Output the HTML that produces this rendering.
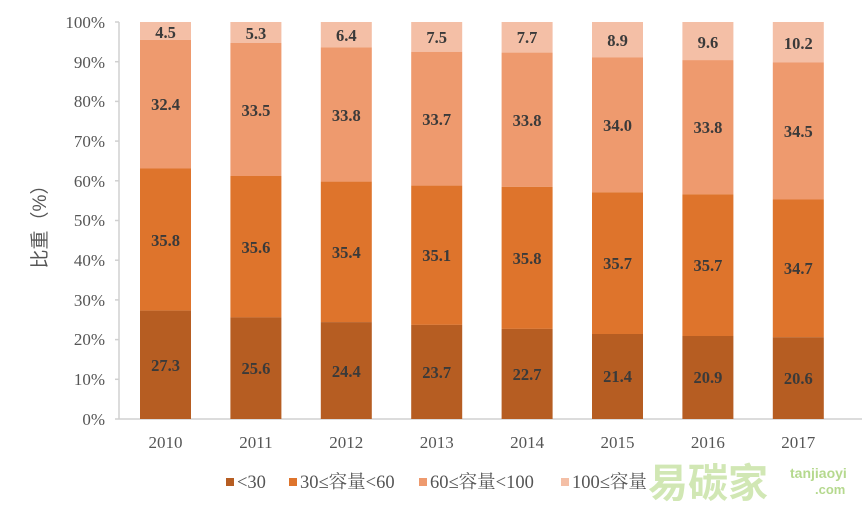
<!DOCTYPE html>
<html><head><meta charset="utf-8"><style>
body{margin:0;background:#fff;}
svg{display:block;}
.v{font-family:"Liberation Serif",serif;font-weight:bold;font-size:16.5px;fill:#3a3a3a;text-anchor:middle;}
.y{font-family:"Liberation Serif",serif;font-size:17px;fill:#555;text-anchor:end;}
.x{font-family:"Liberation Serif",serif;font-size:17px;fill:#555;text-anchor:middle;}
</style></head><body>
<svg width="866" height="510" viewBox="0 0 866 510">
<g stroke="#d0d0d0" stroke-width="1.5">
<line x1="119" y1="22" x2="119" y2="419"/>
<line x1="119" y1="419" x2="862" y2="419"/>
<line x1="115" y1="22" x2="119" y2="22"/><line x1="115" y1="61.7" x2="119" y2="61.7"/><line x1="115" y1="101.4" x2="119" y2="101.4"/><line x1="115" y1="141.1" x2="119" y2="141.1"/><line x1="115" y1="180.8" x2="119" y2="180.8"/><line x1="115" y1="220.5" x2="119" y2="220.5"/><line x1="115" y1="260.2" x2="119" y2="260.2"/><line x1="115" y1="299.9" x2="119" y2="299.9"/><line x1="115" y1="339.6" x2="119" y2="339.6"/><line x1="115" y1="379.3" x2="119" y2="379.3"/><line x1="115" y1="419" x2="119" y2="419"/>
</g>
<g class="y">
<text x="105" y="28">100%</text><text x="105" y="68">90%</text><text x="105" y="107">80%</text><text x="105" y="147">70%</text><text x="105" y="187">60%</text><text x="105" y="226">50%</text><text x="105" y="266">40%</text><text x="105" y="306">30%</text><text x="105" y="345">20%</text><text x="105" y="385">10%</text><text x="105" y="425">0%</text>
</g>
<text transform="translate(46,222) rotate(-90)" text-anchor="middle" style="font-family:'Liberation Sans','Noto Sans CJK SC',sans-serif;font-size:19px;fill:#555">比重（%）</text>

<g>
<rect x="140" y="22" width="51" height="17.9" fill="#F4BFA6"/><rect x="140" y="39.9" width="51" height="128.6" fill="#EE9A6E"/><rect x="140" y="168.5" width="51" height="142.1" fill="#DE742C"/><rect x="140" y="310.6" width="51" height="108.4" fill="#B65D22"/>
<rect x="230.4" y="22" width="51" height="21" fill="#F4BFA6"/><rect x="230.4" y="43" width="51" height="133" fill="#EE9A6E"/><rect x="230.4" y="176" width="51" height="141.4" fill="#DE742C"/><rect x="230.4" y="317.4" width="51" height="101.6" fill="#B65D22"/>
<rect x="320.8" y="22" width="51" height="25.4" fill="#F4BFA6"/><rect x="320.8" y="47.4" width="51" height="134.2" fill="#EE9A6E"/><rect x="320.8" y="181.6" width="51" height="140.5" fill="#DE742C"/><rect x="320.8" y="322.1" width="51" height="96.9" fill="#B65D22"/>
<rect x="411.2" y="22" width="51" height="29.8" fill="#F4BFA6"/><rect x="411.2" y="51.8" width="51" height="133.8" fill="#EE9A6E"/><rect x="411.2" y="185.6" width="51" height="139.3" fill="#DE742C"/><rect x="411.2" y="324.9" width="51" height="94.1" fill="#B65D22"/>
<rect x="501.6" y="22" width="51" height="30.6" fill="#F4BFA6"/><rect x="501.6" y="52.6" width="51" height="134.2" fill="#EE9A6E"/><rect x="501.6" y="186.8" width="51" height="142.1" fill="#DE742C"/><rect x="501.6" y="328.9" width="51" height="90.1" fill="#B65D22"/>
<rect x="592" y="22" width="51" height="35.3" fill="#F4BFA6"/><rect x="592" y="57.3" width="51" height="135" fill="#EE9A6E"/><rect x="592" y="192.3" width="51" height="141.7" fill="#DE742C"/><rect x="592" y="334" width="51" height="85" fill="#B65D22"/>
<rect x="682.4" y="22" width="51" height="38.1" fill="#F4BFA6"/><rect x="682.4" y="60.1" width="51" height="134.2" fill="#EE9A6E"/><rect x="682.4" y="194.3" width="51" height="141.7" fill="#DE742C"/><rect x="682.4" y="336" width="51" height="83" fill="#B65D22"/>
<rect x="772.8" y="22" width="51" height="40.5" fill="#F4BFA6"/><rect x="772.8" y="62.5" width="51" height="137" fill="#EE9A6E"/><rect x="772.8" y="199.5" width="51" height="137.7" fill="#DE742C"/><rect x="772.8" y="337.2" width="51" height="81.8" fill="#B65D22"/>
</g>
<g class="v">
<text x="165.5" y="371">27.3</text><text x="165.5" y="246">35.8</text><text x="165.5" y="110">32.4</text><text x="165.5" y="38">4.5</text>
<text x="255.9" y="374">25.6</text><text x="255.9" y="253">35.6</text><text x="255.9" y="116">33.5</text><text x="255.9" y="39">5.3</text>
<text x="346.3" y="377">24.4</text><text x="346.3" y="258">35.4</text><text x="346.3" y="121">33.8</text><text x="346.3" y="41">6.4</text>
<text x="436.7" y="378">23.7</text><text x="436.7" y="261">35.1</text><text x="436.7" y="125">33.7</text><text x="436.7" y="43">7.5</text>
<text x="527.1" y="380">22.7</text><text x="527.1" y="264">35.8</text><text x="527.1" y="126">33.8</text><text x="527.1" y="43">7.7</text>
<text x="617.5" y="382">21.4</text><text x="617.5" y="269">35.7</text><text x="617.5" y="131">34.0</text><text x="617.5" y="46">8.9</text>
<text x="707.9" y="383">20.9</text><text x="707.9" y="271">35.7</text><text x="707.9" y="133">33.8</text><text x="707.9" y="48">9.6</text>
<text x="798.3" y="384">20.6</text><text x="798.3" y="274">34.7</text><text x="798.3" y="137">34.5</text><text x="798.3" y="49">10.2</text>
</g>
<g class="x">
<text x="165.5" y="448">2010</text><text x="255.9" y="448">2011</text><text x="346.3" y="448">2012</text><text x="436.7" y="448">2013</text><text x="527.1" y="448">2014</text><text x="617.5" y="448">2015</text><text x="707.9" y="448">2016</text><text x="798.3" y="448">2017</text>
</g>
<g style="font-family:'Liberation Serif','Noto Serif CJK SC',serif;font-size:18.5px;fill:#555">
<rect x="226" y="478" width="8" height="8" fill="#B65D22"/><text x="237" y="488">&lt;30</text>
<rect x="289" y="478" width="8" height="8" fill="#DE742C"/><text x="300" y="488">30≤容量&lt;60</text>
<rect x="419" y="478" width="8" height="8" fill="#EE9A6E"/><text x="430" y="488">60≤容量&lt;100</text>
<rect x="561" y="478" width="8" height="8" fill="#F4BFA6"/><text x="572" y="488">100≤容量</text>
</g>
<text x="648" y="497" style="font-family:'Noto Sans CJK SC',sans-serif;font-size:40px;font-weight:bold;fill:#c9e3a8;opacity:0.85">易碳家</text>
<text x="790" y="478" style="font-family:'Liberation Sans',sans-serif;font-size:14px;font-weight:bold;fill:#b5d98e">tanjiaoyi</text>
<text x="815" y="494" style="font-family:'Liberation Sans',sans-serif;font-size:13px;font-weight:bold;fill:#b5d98e">.com</text>
</svg>
</body></html>
